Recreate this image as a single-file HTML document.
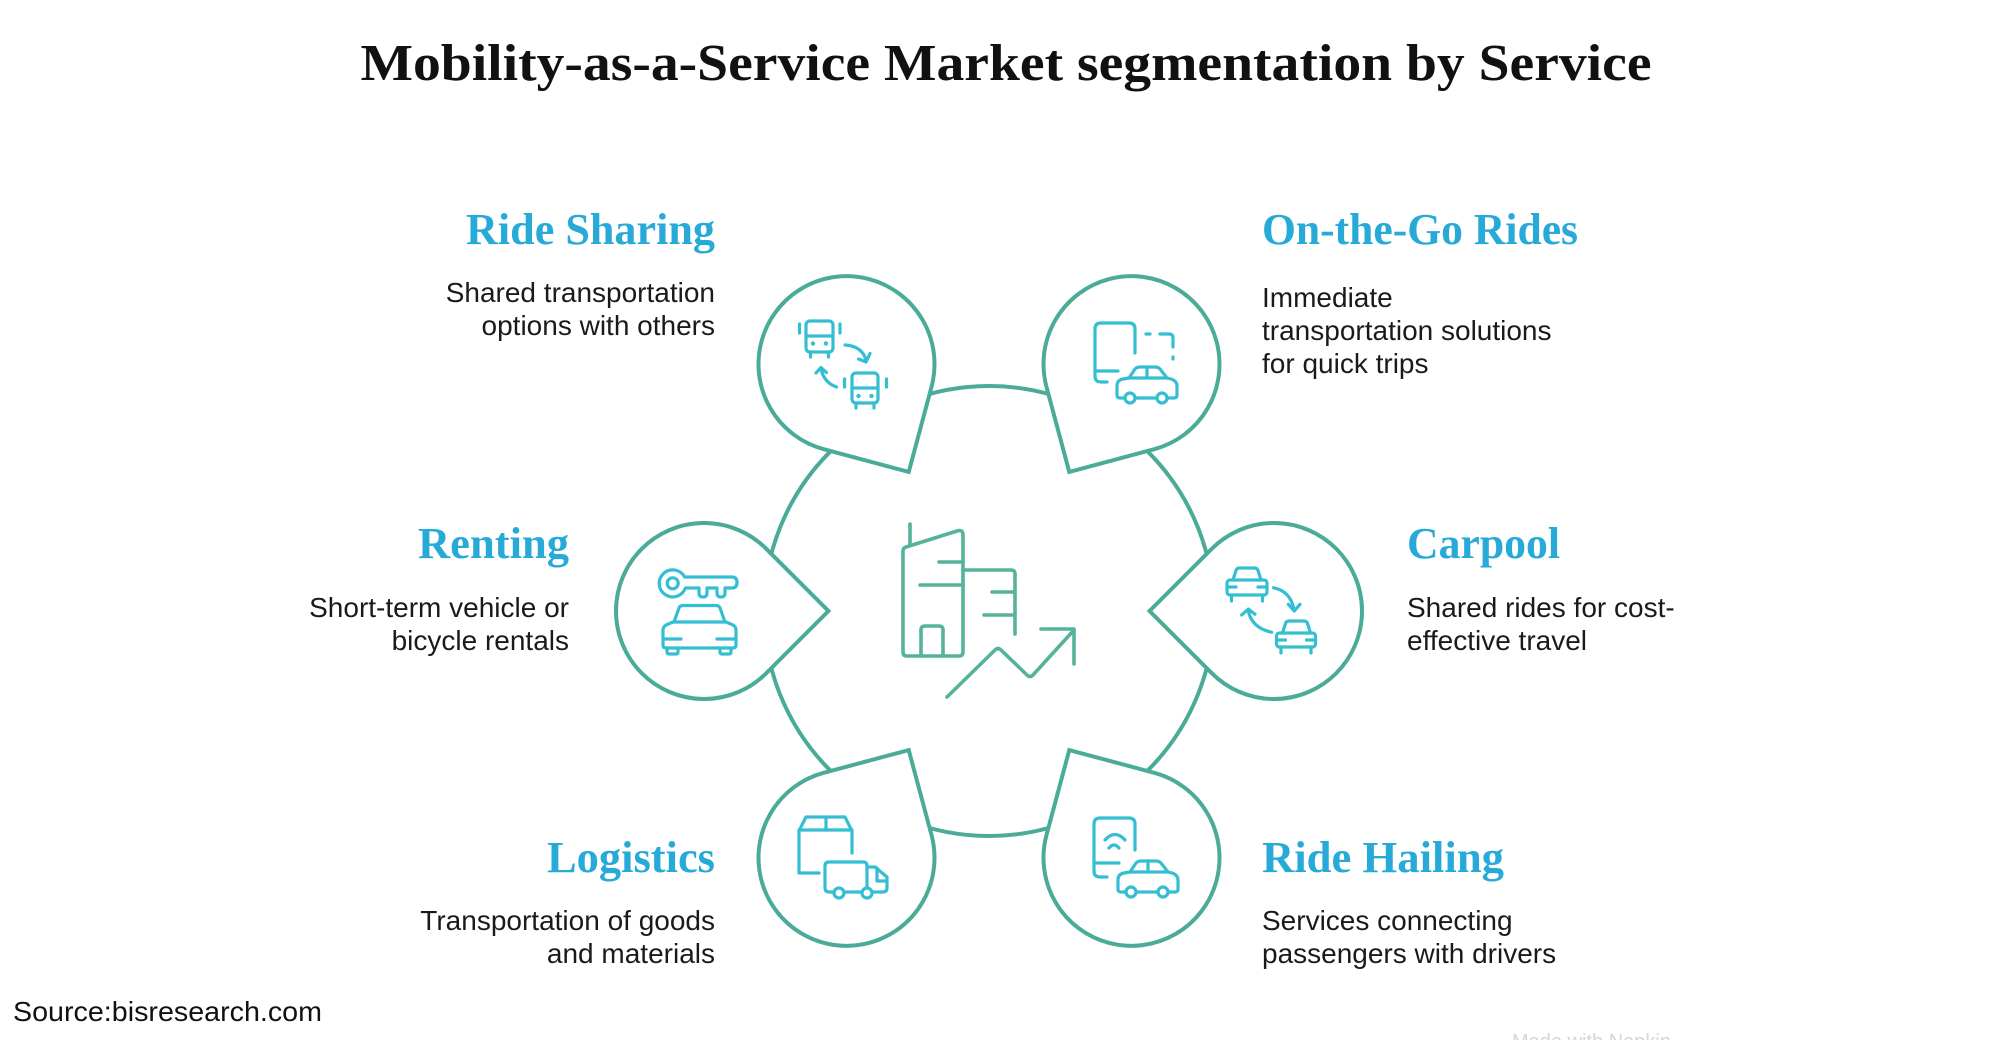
<!DOCTYPE html>
<html>
<head>
<meta charset="utf-8">
<style>
  html, body { margin: 0; padding: 0; background: #ffffff; }
  body { width: 2000px; height: 1040px; overflow: hidden; }
  svg { display: block; }
  .title { font-family: "Liberation Serif", serif; font-weight: bold; font-size: 52px; fill: #111111; }
  .head { font-family: "Liberation Serif", serif; font-weight: bold; font-size: 44px; fill: #27aad8; }
  .desc { font-family: "Liberation Sans", sans-serif; font-size: 28px; fill: #1a1a1a; }
  .src { font-family: "Liberation Sans", sans-serif; font-size: 28px; fill: #111111; }
  .pin { fill: #ffffff; stroke: #4aab98; stroke-width: 4; stroke-linejoin: miter; }
  .ic { fill: none; stroke: #34bed2; stroke-width: 3.2; stroke-linecap: round; stroke-linejoin: round; }
  .cic { fill: none; stroke: #55b39b; stroke-width: 3.6; stroke-linecap: round; stroke-linejoin: round; }
</style>
</head>
<body>
<svg width="2000" height="1040" viewBox="0 0 2000 1040" xmlns="http://www.w3.org/2000/svg">
  <!-- Title -->
  <text class="title" x="1006" y="80" text-anchor="middle" textLength="1291" lengthAdjust="spacingAndGlyphs">Mobility-as-a-Service Market segmentation by Service</text>

  <!-- Main circle -->
  <circle cx="989" cy="611" r="225" fill="none" stroke="#4aab98" stroke-width="4"/>

  <!-- Pins -->
  <path class="pin" d="M 1211.78 548.78 L 1149.55 611 L 1211.78 673.22 A 88 88 0 1 0 1211.78 548.78 Z"/>
  <path class="pin" d="M 1046.5 386.96 L 1069.28 471.96 L 1154.28 449.18 A 88 88 0 1 0 1046.5 386.96 Z"/>
  <path class="pin" d="M 823.72 449.18 L 908.73 471.96 L 931.5 386.96 A 88 88 0 1 0 823.72 449.18 Z"/>
  <path class="pin" d="M 766.23 673.23 L 828.45 611 L 766.23 548.78 A 88 88 0 1 0 766.23 673.23 Z"/>
  <path class="pin" d="M 931.5 835.04 L 908.73 750.04 L 823.72 772.82 A 88 88 0 1 0 931.5 835.04 Z"/>
  <path class="pin" d="M 1154.28 772.82 L 1069.28 750.04 L 1046.5 835.04 A 88 88 0 1 0 1154.28 772.82 Z"/>

  <!-- Center icon -->
  <g class="cic">
    <path d="M 910 524 L 910 544"/>
    <path d="M 903 551 Q 903 548 906 547 L 957 531 Q 963 529 963 535 L 963 652 Q 963 656 959 656 L 907 656 Q 903 656 903 652 Z"/>
    <path d="M 939 562 L 963 562 M 920 585 L 963 585"/>
    <path d="M 921 656 L 921 630 Q 921 626 925 626 L 939 626 Q 943 626 943 630 L 943 656"/>
    <path d="M 963 570 L 1011 570 Q 1015 570 1015 574 L 1015 634"/>
    <path d="M 992 592 L 1015 592 M 984 615 L 1015 615"/>
    <path d="M 947 697 L 995 650 Q 998 647 1001 650 L 1027 675 Q 1030 678 1033 675 L 1074 630"/>
    <path d="M 1041 629 L 1074 629 L 1074 664"/>
  </g>

  <!-- Ride Sharing icon -->
  <g class="ic">
    <rect x="806" y="321" width="27" height="31" rx="4"/>
    <path d="M 806 336 L 833 336"/>
    <path d="M 810.5 352 L 810.5 357 M 828.5 352 L 828.5 357"/>
    <path d="M 799.5 324 L 799.5 333 M 840 324 L 840 333"/>
    <rect x="852" y="373" width="26" height="30" rx="4"/>
    <path d="M 852 388 L 878 388"/>
    <path d="M 856 403 L 856 408 M 874 403 L 874 408"/>
    <path d="M 844.5 379 L 844.5 387 M 886.5 379 L 886.5 387"/>
    <path d="M 845 345 Q 862 346 866 360"/>
    <path d="M 858.5 359 L 866 362 L 870 353.5"/>
    <path d="M 836.5 387 Q 823 382 821 368"/>
    <path d="M 816 373 L 821 367.5 L 826.5 372.5"/>
  </g>
  <g fill="#34bed2">
    <circle cx="813" cy="343.5" r="2.2"/><circle cx="826" cy="343.5" r="2.2"/>
    <circle cx="858.5" cy="396" r="2.2"/><circle cx="871.5" cy="396" r="2.2"/>
  </g>

  <!-- On-the-Go icon -->
  <g class="ic">
    <path d="M 1135 353 L 1135 329 Q 1135 323 1129 323 L 1101 323 Q 1095 323 1095 329 L 1095 376 Q 1095 382 1101 382 L 1107 382"/>
    <path d="M 1095 371 L 1118 371"/>
    <path d="M 1146 334 L 1150 334"/>
    <path d="M 1160 334 L 1169 334 Q 1173 334 1173 338 L 1173 347"/>
    <path d="M 1173 357 L 1173 359"/>
    <path d="M 1125 398 L 1120 398 Q 1117 398 1117 395 L 1117 386 Q 1117 380 1123 379 L 1129 378 L 1135 369 Q 1137 367 1140 367 L 1155 367 Q 1158 367 1160 369 L 1167 378 L 1171 379 Q 1177 381 1177 386 L 1177 395 Q 1177 398 1174 398 L 1167 398"/>
    <path d="M 1135 398 L 1157 398"/>
    <path d="M 1129 378 L 1167 378"/>
    <path d="M 1147 367 L 1147 378"/>
    <circle cx="1130" cy="398" r="5"/>
    <circle cx="1162" cy="398" r="5"/>
  </g>

  <!-- Renting icon -->
  <g class="ic">
    <path d="M 685.4 588 A 13.5 13.5 0 1 1 684.6 577 L 732 577 Q 737 577 737 582.5 Q 737 588 732 588 L 725 588 L 725 593 Q 725 597 721 597 Q 717 597 717 593 L 717 588 L 707 588 L 707 593 Q 707 597 703 597 Q 699 597 699 593 L 699 588 Z"/>
    <circle cx="672.7" cy="583.3" r="5.5"/>
    <path d="M 674 622 L 679 608 Q 680 605.5 683 605.5 L 716 605.5 Q 719 605.5 720 608 L 725 622"/>
    <path d="M 663 645 L 663 630 Q 663 627 666 625 L 673 622 L 726 622 L 733 625 Q 736 627 736 630 L 736 645 Q 736 648 733 648 L 666 648 Q 663 648 663 645 Z"/>
    <path d="M 665 639 L 681 639 M 717 639 L 735 639"/>
    <path d="M 667 648 L 667 652 Q 667 654 669 654 L 676 654 Q 678 654 678 652 L 678 648"/>
    <path d="M 720 648 L 720 652 Q 720 654 722 654 L 729 654 Q 731 654 731 652 L 731 648"/>
  </g>

  <!-- Carpool icon -->
  <g class="ic">
    <g transform="translate(1227,568)">
      <path d="M 6 12 L 9 2.5 Q 9.8 0 12.5 0 L 27.5 0 Q 30.2 0 31 2.5 L 34 12"/>
      <rect x="0" y="12" width="40" height="15" rx="3"/>
      <path d="M 1.5 19 L 9 19 M 31 19 L 38.5 19"/>
      <path d="M 4.5 27 L 4.5 33 M 35.5 27 L 35.5 33"/>
    </g>
    <g transform="translate(1276.5,621)">
      <path d="M 6 12 L 9 2.5 Q 9.8 0 12.5 0 L 27.5 0 Q 30.2 0 31 2.5 L 34 12"/>
      <rect x="0" y="12" width="39" height="14" rx="3"/>
      <path d="M 1.5 19 L 9 19 M 30 19 L 37.5 19"/>
      <path d="M 4.5 26 L 4.5 32 M 34.5 26 L 34.5 32"/>
    </g>
    <path d="M 1273.5 587.7 Q 1290 591 1294 609"/>
    <path d="M 1288.3 604.3 L 1294.3 611 L 1300 604.3"/>
    <path d="M 1271.7 632.3 Q 1252 628 1248.3 611"/>
    <path d="M 1241.7 615 L 1248.3 609 L 1255 614.3"/>
  </g>

  <!-- Logistics icon -->
  <g class="ic">
    <path d="M 819 873 L 799 873 L 799 831 L 806 817 L 845 817 L 852 831 L 852 853"/>
    <path d="M 799 830 L 852 830"/>
    <path d="M 826 817 L 826 830"/>
    <path d="M 834 892 L 829 892 Q 825 892 825 888 L 825 866 Q 825 862 829 862 L 863 862 Q 867 862 867 866 L 867 867 L 875 867 L 887 877 L 887 888 Q 887 892 883 892 L 872 892"/>
    <path d="M 844 892 L 862 892"/>
    <path d="M 867 867 L 867 887"/>
    <path d="M 877 868 L 877 881 L 886 881"/>
    <circle cx="839" cy="893" r="5"/>
    <circle cx="867" cy="893" r="5"/>
  </g>

  <!-- Ride Hailing icon -->
  <g class="ic">
    <path d="M 1135 850 L 1135 824 Q 1135 818 1129 818 L 1100 818 Q 1094 818 1094 824 L 1094 871 Q 1094 877 1100 877 L 1107 877"/>
    <path d="M 1094 863 L 1119 863"/>
    <path d="M 1105 840 Q 1115 829 1125 840"/>
    <path d="M 1109 848 Q 1114 842 1119 848"/>
    <g transform="translate(1,494)">
      <path d="M 1125 398 L 1120 398 Q 1117 398 1117 395 L 1117 386 Q 1117 380 1123 379 L 1129 378 L 1135 369 Q 1137 367 1140 367 L 1155 367 Q 1158 367 1160 369 L 1167 378 L 1171 379 Q 1177 381 1177 386 L 1177 395 Q 1177 398 1174 398 L 1167 398"/>
      <path d="M 1135 398 L 1157 398"/>
      <path d="M 1129 378 L 1167 378"/>
      <path d="M 1147 367 L 1147 378"/>
      <circle cx="1130" cy="398" r="5"/>
      <circle cx="1162" cy="398" r="5"/>
    </g>
  </g>

  <!-- Ride Sharing text -->
  <text class="head" x="715" y="244" text-anchor="end" textLength="249" lengthAdjust="spacingAndGlyphs">Ride Sharing</text>
  <text class="desc" x="715" y="302" text-anchor="end">Shared transportation</text>
  <text class="desc" x="715" y="335" text-anchor="end">options with others</text>

  <!-- On-the-Go text -->
  <text class="head" x="1262" y="244" textLength="316" lengthAdjust="spacingAndGlyphs">On-the-Go Rides</text>
  <text class="desc" x="1262" y="307">Immediate</text>
  <text class="desc" x="1262" y="340">transportation solutions</text>
  <text class="desc" x="1262" y="373">for quick trips</text>

  <!-- Renting text -->
  <text class="head" x="569" y="558" text-anchor="end" textLength="151" lengthAdjust="spacingAndGlyphs">Renting</text>
  <text class="desc" x="569" y="617" text-anchor="end">Short-term vehicle or</text>
  <text class="desc" x="569" y="650" text-anchor="end">bicycle rentals</text>

  <!-- Carpool text -->
  <text class="head" x="1407" y="558" textLength="153" lengthAdjust="spacingAndGlyphs">Carpool</text>
  <text class="desc" x="1407" y="617">Shared rides for cost-</text>
  <text class="desc" x="1407" y="650">effective travel</text>

  <!-- Logistics text -->
  <text class="head" x="715" y="872" text-anchor="end" textLength="168" lengthAdjust="spacingAndGlyphs">Logistics</text>
  <text class="desc" x="715" y="930" text-anchor="end">Transportation of goods</text>
  <text class="desc" x="715" y="963" text-anchor="end">and materials</text>

  <!-- Ride Hailing text -->
  <text class="head" x="1262" y="872" textLength="242" lengthAdjust="spacingAndGlyphs">Ride Hailing</text>
  <text class="desc" x="1262" y="930">Services connecting</text>
  <text class="desc" x="1262" y="963">passengers with drivers</text>

  <!-- Source -->
  <text class="src" x="13" y="1021" textLength="309" lengthAdjust="spacingAndGlyphs">Source:bisresearch.com</text>

  <!-- faint watermark (cut off at bottom edge) -->
  <text x="1512" y="1048" font-family="Liberation Sans, sans-serif" font-size="20" fill="#d6d6d6">Made with Napkin</text>
</svg>
</body>
</html>
